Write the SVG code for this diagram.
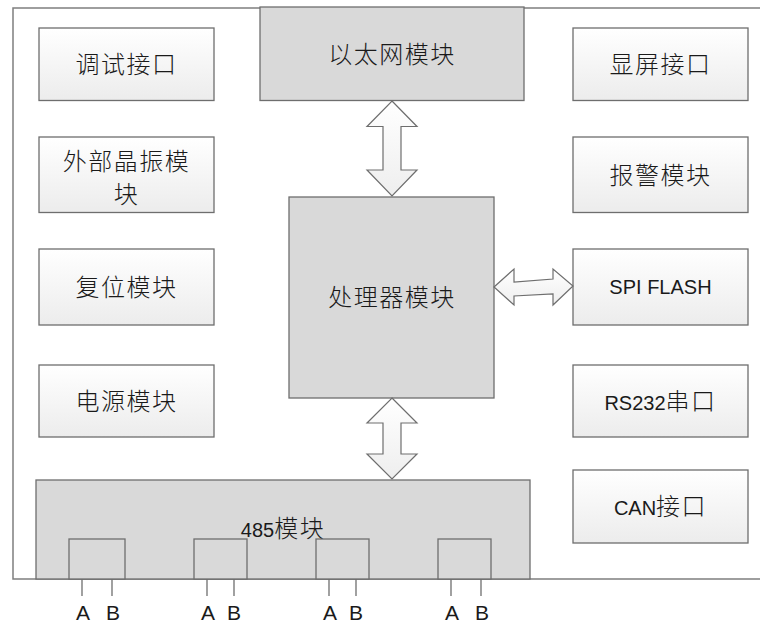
<svg xmlns="http://www.w3.org/2000/svg" width="760" height="626" viewBox="0 0 760 626">
<defs>
<linearGradient id="lg" x1="0" y1="0" x2="0" y2="1">
<stop offset="0" stop-color="#ffffff"/>
<stop offset="1" stop-color="#ececec"/>
</linearGradient>
<linearGradient id="ag" x1="0" y1="0" x2="0" y2="1">
<stop offset="0" stop-color="#ffffff"/>
<stop offset="1" stop-color="#eeeeee"/>
</linearGradient>
<style>
.frame{fill:none;stroke:#7f7f7f;stroke-width:1.5}
.lite{fill:url(#lg);stroke:#6e6e6e;stroke-width:1.3}
.dark{fill:#d9d9d9;stroke:#6e6e6e;stroke-width:1.3}
.arr{fill:url(#ag);stroke:#6e6e6e;stroke-width:1.2;stroke-linejoin:miter}
.pin{stroke:#6e6e6e;stroke-width:1.3}
.t{font-family:"Noto Sans CJK SC","Liberation Sans",sans-serif;font-size:24px;font-weight:300;fill:#1a1a1a;text-anchor:middle;letter-spacing:1.5px}
.l{font-family:"Liberation Sans","Noto Sans CJK SC",sans-serif;font-size:20px;font-weight:400;letter-spacing:0}
.ab{font-family:"Liberation Sans",sans-serif;font-size:21px;fill:#1a1a1a;text-anchor:middle}
</style>
</defs>
<rect x="0" y="0" width="760" height="626" fill="#ffffff"/>
<path class="frame" d="M770,8 H13 V579 H770"/>

<g id="ethernet"><rect class="dark" x="260" y="7" width="264" height="93.5"/><text class="t" x="392" y="63">以太网模块</text></g>
<g id="processor"><rect class="dark" x="289" y="197" width="205" height="201"/><text class="t" x="392" y="306">处理器模块</text></g>

<g id="debug"><rect class="lite" x="39" y="28" width="175" height="72.5"/><text class="t" x="126.5" y="73">调试接口</text></g>
<g id="crystal"><rect class="lite" x="39" y="137" width="175" height="75.5"/><text class="t" x="126.5" y="170">外部晶振模</text><text class="t" x="126.5" y="203">块</text></g>
<g id="reset"><rect class="lite" x="39" y="249" width="175" height="76"/><text class="t" x="126.5" y="296">复位模块</text></g>
<g id="power"><rect class="lite" x="39" y="365" width="175" height="72"/><text class="t" x="126.5" y="410">电源模块</text></g>

<g id="display"><rect class="lite" x="573" y="28" width="175" height="72.5"/><text class="t" x="660.5" y="73">显屏接口</text></g>
<g id="alarm"><rect class="lite" x="573" y="137" width="175" height="75.5"/><text class="t" x="660.5" y="184">报警模块</text></g>
<g id="spiflash"><rect class="lite" x="573" y="249" width="175" height="76"/><text class="t l" x="660.5" y="294">SPI FLASH</text></g>
<g id="rs232"><rect class="lite" x="573" y="365" width="175" height="72"/><text class="t" x="660.5" y="410"><tspan class="l">RS232</tspan>串口</text></g>
<g id="can"><rect class="lite" x="573" y="470" width="175" height="73"/><text class="t" x="660.5" y="515"><tspan class="l">CAN</tspan>接口</text></g>

<g id="rs485">
<rect class="dark" x="36" y="480" width="494" height="99"/>
<text class="t" x="283" y="537"><tspan class="l" font-size="22px">485</tspan>模块</text>
<rect class="dark" x="69" y="539" width="56" height="40"/>
<rect class="dark" x="194" y="539" width="53" height="40"/>
<rect class="dark" x="316" y="539" width="53" height="40"/>
<rect class="dark" x="438" y="539" width="53" height="40"/>
<line class="pin" x1="82" y1="579" x2="82" y2="596"/>
<line class="pin" x1="112" y1="579" x2="112" y2="596"/>
<line class="pin" x1="207" y1="579" x2="207" y2="596"/>
<line class="pin" x1="234" y1="579" x2="234" y2="596"/>
<line class="pin" x1="329" y1="579" x2="329" y2="596"/>
<line class="pin" x1="356" y1="579" x2="356" y2="596"/>
<line class="pin" x1="451" y1="579" x2="451" y2="596"/>
<line class="pin" x1="481" y1="579" x2="481" y2="596"/>
<text class="ab" x="83" y="620">A</text><text class="ab" x="113" y="620">B</text>
<text class="ab" x="208" y="620">A</text><text class="ab" x="234" y="620">B</text>
<text class="ab" x="330" y="620">A</text><text class="ab" x="356" y="620">B</text>
<text class="ab" x="452" y="620">A</text><text class="ab" x="482" y="620">B</text>
</g>

<g id="connectors">
<polygon class="arr" points="392,101 417,126.5 401,126.5 401,170 417,170 392,196 367,170 383,170 383,126.5 367,126.5"/>
<polygon class="arr" points="392,398 417,423 401,423 401,454 417,454 392,479 367,454 383,454 383,423 367,423"/>
<polygon class="arr" points="494,287 514,269 514,282 553,279 553,269 573,286 553,305 553,294 514,296 514,305"/>
</g>
</svg>
